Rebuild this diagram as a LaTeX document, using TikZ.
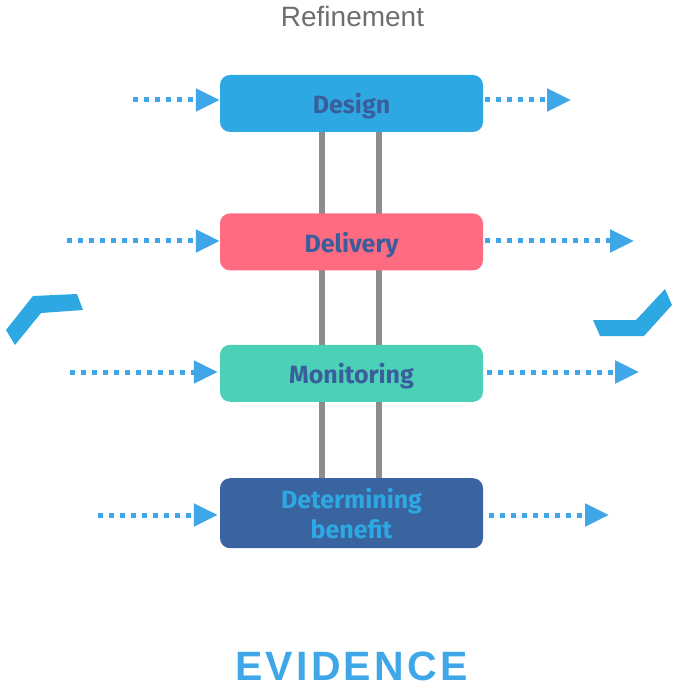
\documentclass[tikz,border=0pt]{standalone}
\usepackage{fontspec}
\setmainfont{Liberation Sans}
\newfontfamily\stagefont{Fira Sans}
\usetikzlibrary{arrows.meta, positioning, backgrounds}
\definecolor{designblue}{RGB}{46, 168, 227}
\definecolor{deliverypink}{RGB}{255, 107, 129}
\definecolor{monitorgreen}{RGB}{76, 209, 184}
\definecolor{benefitnavy}{RGB}{58, 100, 160}
\definecolor{labelnavy}{RGB}{58, 93, 156}
\definecolor{flowblue}{RGB}{63, 167, 232}
\definecolor{railgray}{RGB}{140, 140, 140}
\definecolor{titlegray}{RGB}{110, 110, 110}

\begin{document}
\begin{tikzpicture}[x=1pt, y=-1pt,
    stage/.style={rectangle, rounded corners=10pt, minimum width=263pt,
      minimum height=57pt, inner sep=0pt, align=center, text=labelnavy,
      text depth=0pt, font=\stagefont\bfseries\fontsize{25}{30}\selectfont},
    flow/.style={draw=flowblue, line width=5pt, dash pattern=on 5pt off 6pt,
      -{Triangle[length=24pt, width=22pt]}},
    rail/.style={draw=railgray, line width=6pt}]
  \useasboundingbox (0,0) rectangle (673,692);

  % the four stages
  \node[stage, fill=designblue] (design) at (351.5,103.5) {Design};
  \node[stage, fill=deliverypink, below=81pt of design] (delivery) {Delivery};
  \node[stage, fill=monitorgreen, below=74pt of delivery] (monitoring) {Monitoring};
  \node[stage, fill=benefitnavy, text=designblue, minimum height=70pt,
        below=76pt of monitoring] (benefit) {Determining\\benefit};

  % two rails behind the stages
  \begin{scope}[on background layer]
    \draw[rail] ([xshift=-29.5pt]design.south) -- ([xshift=-29.5pt]benefit.north);
    \draw[rail] ([xshift=27.5pt]design.south) -- ([xshift=27.5pt]benefit.north);
  \end{scope}

  % dotted flows in and out
  \coordinate (designin) at (133,100);
  \coordinate (designout) at (571,100);
  \coordinate (deliveryin) at (67,241);
  \coordinate (deliveryout) at (634,241);
  \coordinate (monitorin) at (70,372);
  \coordinate (monitorout) at (639,372);
  \coordinate (benefitin) at (98,515);
  \coordinate (benefitout) at (609,515);
  \draw[flow] (designin) -- (designin -| design.west);
  \draw[flow, shorten <=2pt] (design.east |- designout) -- (designout);
  \draw[flow] (deliveryin) -- (deliveryin -| delivery.west);
  \draw[flow, shorten <=2pt] (delivery.east |- deliveryout) -- (deliveryout);
  \draw[flow] (monitorin) -- ([xshift=-2pt]monitorin -| monitoring.west);
  \draw[flow, shorten <=4pt] (monitoring.east |- monitorout) -- (monitorout);
  \draw[flow] (benefitin) -- ([xshift=-2pt]benefitin -| benefit.west);
  \draw[flow, shorten <=6pt] (benefit.east |- benefitout) -- (benefitout);

  % side chevrons
  \fill[designblue] (6,330) -- (33,296) -- (77,294) -- (83,310) -- (41,313) -- (15,345) -- cycle;
  \fill[designblue] (593,320) -- (636,320) -- (665,289) -- (672,305) -- (644,336) -- (600,336) -- cycle;

  % headings
  \node[anchor=base, text=titlegray, font=\fontsize{28}{32}\selectfont]
    (refinement) at (352.5,27) {Refinement};
  \node[anchor=base, text=flowblue,
        font=\bfseries\fontsize{41}{46}\selectfont\addfontfeature{LetterSpace=8}]
    (evidence) at (351.5,680) {EVIDENCE};
\end{tikzpicture}
\end{document}
